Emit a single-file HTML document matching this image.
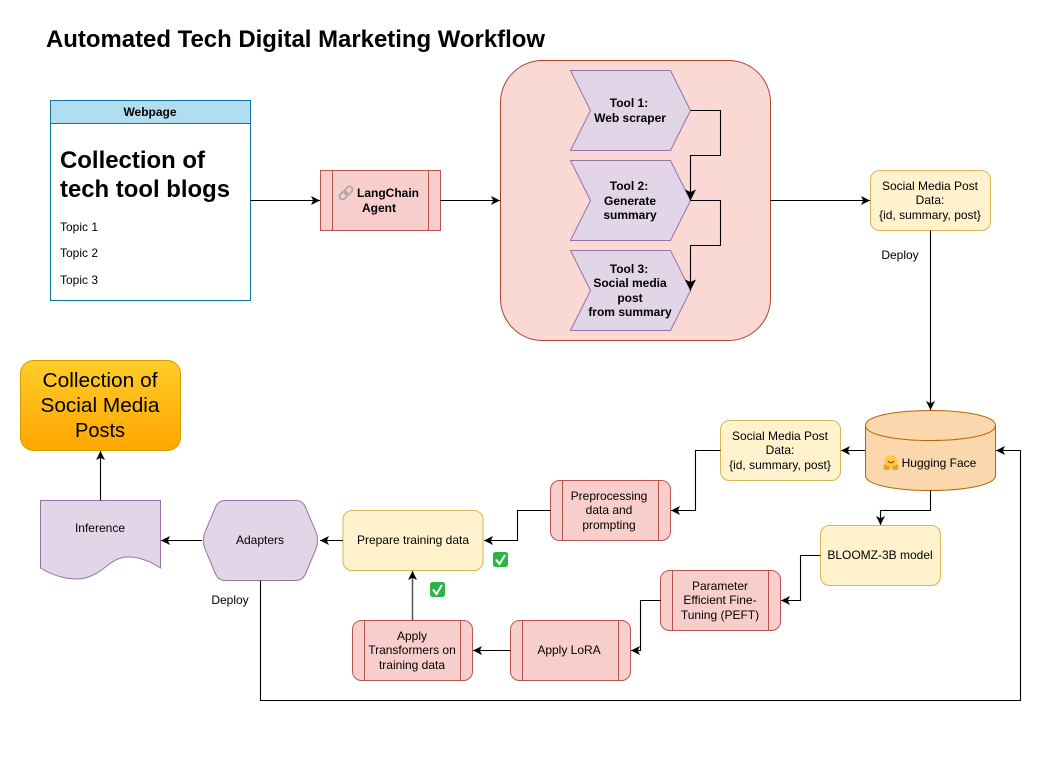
<!DOCTYPE html>
<html><head><meta charset="utf-8"><style>
html,body{margin:0;padding:0;background:#fff}
svg{display:block}
text{font-family:"Liberation Sans",Arial,sans-serif;font-size:12px;fill:#000;text-anchor:middle}
.b{font-weight:bold}
.l{text-anchor:start}
.c{fill:none;stroke:#000;stroke-width:1.1}
.y{fill:#fff2cc;stroke:#d6b656}
.r{fill:#f8cecc;stroke:#b85450}
.p{fill:#e1d5e7;stroke:#9673a6}
.s{fill:none;stroke:#b85450}
</style></head><body>
<svg width="1051" height="772" viewBox="0 0 1051 772" xmlns="http://www.w3.org/2000/svg">
<defs>
<linearGradient id="g" x1="0" y1="0" x2="0" y2="1"><stop offset="0" stop-color="#ffcd28"/><stop offset="1" stop-color="#ffa500"/></linearGradient>
<marker id="a" markerUnits="userSpaceOnUse" markerWidth="11" markerHeight="11" refX="9" refY="5.5" orient="auto"><path d="M0,1 L9,5.5 L0,10 L2.2,5.5Z" fill="#000"/></marker>
<marker id="t" markerUnits="userSpaceOnUse" markerWidth="13" markerHeight="13" refX="11" refY="6.5" orient="auto"><path d="M0,1 L11,6.5 L0,12 L2.5,6.5Z" fill="#000"/></marker>
</defs>

<text x="46" y="47" class="l b" style="font-size:24px" textLength="499" lengthAdjust="spacingAndGlyphs">Automated Tech Digital Marketing Workflow</text>

<!-- Webpage -->
<rect x="50.5" y="100.5" width="200" height="200" fill="#fff" stroke="#10739e"/>
<rect x="50.5" y="100.5" width="200" height="23" fill="#b1ddf0" stroke="#10739e"/>
<text x="150" y="116" class="b">Webpage</text>
<text x="60" y="168" class="l b" style="font-size:24px" textLength="145" lengthAdjust="spacingAndGlyphs">Collection of</text>
<text x="60" y="197" class="l b" style="font-size:24px" textLength="170" lengthAdjust="spacingAndGlyphs">tech tool blogs</text>
<text x="60" y="231" class="l">Topic 1</text>
<text x="60" y="257" class="l">Topic 2</text>
<text x="60" y="284" class="l">Topic 3</text>

<!-- LangChain -->
<rect x="320.5" y="170.5" width="120" height="60" class="r"/>
<path d="M332.5 170.5V230.5M428.5 170.5V230.5" class="s"/>
<g fill="none" stroke="#a9a9a9" stroke-width="1.8" transform="rotate(-45 346 193)"><rect x="338" y="190" width="9" height="6" rx="3"/><rect x="345" y="190" width="9" height="6" rx="3"/></g>
<text x="388" y="197" class="b">LangChain</text>
<text x="379" y="212" class="b">Agent</text>

<!-- Tools container -->
<rect x="500.5" y="60.5" width="270" height="280" rx="42" ry="42" fill="#fad9d5" stroke="#ae4132"/>
<path d="M570.5 70.5H670.5L690.5 110.5L670.5 150.5H570.5L590.5 110.5Z" class="p"/>
<path d="M570.5 160.5H670.5L690.5 200.5L670.5 240.5H570.5L590.5 200.5Z" class="p"/>
<path d="M570.5 250.5H670.5L690.5 290.5L670.5 330.5H570.5L590.5 290.5Z" class="p"/>
<text x="629" y="107" class="b">Tool 1:</text>
<text x="630" y="122" class="b">Web scraper</text>
<text x="629" y="190" class="b">Tool 2:</text>
<text x="630" y="205" class="b">Generate</text>
<text x="630" y="219" class="b">summary</text>
<text x="629" y="273" class="b">Tool 3:</text>
<text x="630" y="287" class="b">Social media</text>
<text x="630" y="302" class="b">post</text>
<text x="630" y="316" class="b">from summary</text>

<!-- Social post 1 -->
<rect x="870.5" y="170.5" width="120" height="60" rx="9" class="y"/>
<text x="930" y="190">Social Media Post</text>
<text x="930" y="204">Data:</text>
<text x="930" y="219">{id, summary, post}</text>
<text x="900" y="259">Deploy</text>

<!-- Hugging Face -->
<path d="M865.5 425.5C865.5 405.5 995.5 405.5 995.5 425.5V475.5C995.5 495.5 865.5 495.5 865.5 475.5Z" fill="#fad7ac" stroke="#b46504"/>
<path d="M865.5 425.5C865.5 445.5 995.5 445.5 995.5 425.5" fill="none" stroke="#b46504"/>
<circle cx="891" cy="461.5" r="6.5" fill="#ffc83d"/>
<path d="M884 464q-1 5 1 6h4l1-3zM898 464q1 5-1 6h-4l-1-3z" fill="#f59e1c"/>
<path d="M888 461q3 3.5 6 0" fill="none" stroke="#7a3b10" stroke-width="1"/>
<text x="939" y="467">Hugging Face</text>

<!-- Social post 2 -->
<rect x="720.5" y="420.5" width="120" height="60" rx="9" class="y"/>
<text x="780" y="440">Social Media Post</text>
<text x="780" y="454">Data:</text>
<text x="780" y="469">{id, summary, post}</text>

<!-- Preprocessing -->
<rect x="550.5" y="480.5" width="120" height="60" rx="9" class="r"/>
<path d="M562.5 480.5V540.5M658.5 480.5V540.5" class="s"/>
<text x="609" y="500">Preprocessing</text>
<text x="609" y="514">data and</text>
<text x="609" y="529">prompting</text>

<!-- Prepare -->
<rect x="343" y="510.5" width="140" height="60" rx="9" class="y"/>
<text x="413" y="544">Prepare training data</text>

<!-- Check marks -->
<rect x="493" y="552" width="15" height="15" rx="2.5" fill="#2fb344"/>
<path d="M496 559.5l3.5 4.5l5.5-9" fill="none" stroke="#fff" stroke-width="2"/>
<rect x="430" y="582" width="15" height="15" rx="2.5" fill="#2fb344"/>
<path d="M433 589.5l3.5 4.5l5.5-9" fill="none" stroke="#fff" stroke-width="2"/>

<!-- BLOOMZ -->
<rect x="820.5" y="525.5" width="120" height="60" rx="9" class="y"/>
<text x="880" y="559">BLOOMZ-3B model</text>

<!-- PEFT -->
<rect x="660.5" y="570.5" width="120" height="60" rx="9" class="r"/>
<path d="M672.5 570.5V630.5M768.5 570.5V630.5" class="s"/>
<text x="720" y="590">Parameter</text>
<text x="720" y="604">Efficient Fine-</text>
<text x="720" y="619">Tuning (PEFT)</text>

<!-- LoRA -->
<rect x="510.5" y="620.5" width="120" height="60" rx="9" class="r"/>
<path d="M522.5 620.5V680.5M618.5 620.5V680.5" class="s"/>
<text x="569" y="654">Apply LoRA</text>

<!-- Transformers -->
<rect x="352.5" y="620.5" width="120" height="60" rx="9" class="r"/>
<path d="M364.5 620.5V680.5M460.5 620.5V680.5" class="s"/>
<text x="412" y="640">Apply</text>
<text x="412" y="654">Transformers on</text>
<text x="412" y="669">training data</text>

<!-- Adapters -->
<path d="M225 500.5H296Q302 500.5 305 506L316 532Q319 540.5 316 549L305 575Q302 580.5 296 580.5H225Q219 580.5 216 575L205 549Q202 540.5 205 532L216 506Q219 500.5 225 500.5Z" class="p"/>
<text x="260" y="544">Adapters</text>
<text x="230" y="604">Deploy</text>

<!-- Inference -->
<path d="M40.5 500.5H160.5V568C150 561 140 557 128 557C110 557 105 573 85 578C72 581 55 577 40.5 568Z" class="p"/>
<text x="100" y="532">Inference</text>

<!-- Collection -->
<rect x="20.5" y="360.5" width="160" height="90" rx="13" fill="url(#g)" stroke="#d79b00"/>
<text x="100" y="387" style="font-size:20px" textLength="115" lengthAdjust="spacingAndGlyphs">Collection of</text>
<text x="100" y="412" style="font-size:20px" textLength="119" lengthAdjust="spacingAndGlyphs">Social Media</text>
<text x="100" y="437" style="font-size:20px">Posts</text>

<!-- Connectors -->
<path class="c" marker-end="url(#a)" d="M250.5 200.5H320"/>
<path class="c" marker-end="url(#a)" d="M440.5 200.5H500"/>
<path class="c" marker-end="url(#a)" d="M770.5 200.5H870"/>
<path class="c" marker-end="url(#t)" d="M690.5 110.5H720.5V155.5H690.5V200.5"/>
<path class="c" marker-end="url(#t)" d="M690.5 200.5H720.5V245.5H690.5V290.5"/>
<path class="c" marker-end="url(#a)" d="M930.5 230.5V410"/>
<path class="c" marker-end="url(#a)" d="M865 450.5H841"/>
<path class="c" marker-end="url(#a)" d="M720.5 450.5H695.5V510.5H671"/>
<path class="c" marker-end="url(#a)" d="M550.5 510.5H517.5V540.5H484"/>
<path class="c" marker-end="url(#a)" d="M343 540.5H320"/>
<path class="c" marker-end="url(#a)" d="M202 540.5H161"/>
<path class="c" marker-end="url(#a)" d="M100.5 500.5V451"/>
<path class="c" marker-end="url(#a)" d="M930.5 490.5V510.5H880.5V525"/>
<path class="c" marker-end="url(#a)" d="M820.5 555.5H800.5V600.5H781"/>
<path class="c" marker-end="url(#a)" d="M660.5 600.5H640.5V650.5H631"/>
<path class="c" marker-end="url(#a)" d="M510.5 650.5H473"/>
<path class="c" style="stroke:#555;stroke-width:1.5" marker-end="url(#a)" d="M412.5 620.5V571"/>
<path class="c" marker-end="url(#a)" d="M260.5 580.5V700.5H1020.5V450.5H996"/>
</svg>
</body></html>
